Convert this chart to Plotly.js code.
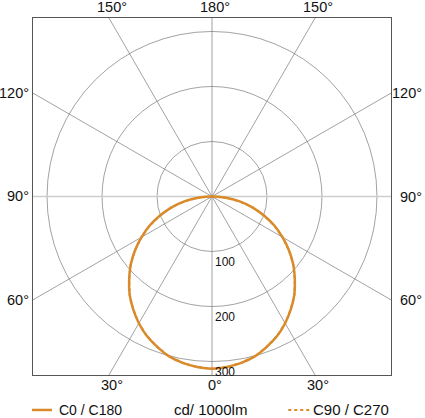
<!DOCTYPE html>
<html>
<head>
<meta charset="utf-8">
<script src="https://cdn.plot.ly/plotly-3.0.1.min.js"></script>
<style>
  html, body { margin: 0; padding: 0; background: #fff; }
  #plot { width: 425px; height: 418px; }
</style>
</head>
<body>
<div id="plot"></div>
<script>
// Light distribution, candela per 1000 lumen
var gammaDeg = [0, 5, 10, 15, 20, 25, 30, 35, 40, 45, 50, 55, 60, 65, 70, 75, 80, 85, 90];
var c0c180 = [313, 311, 307, 301, 291, 280, 266, 250, 233, 213, 193, 171, 148, 125, 100, 76, 51, 25, 0];
var c90c270 = [313, 311, 307, 301, 291, 280, 266, 250, 233, 213, 193, 171, 148, 125, 100, 76, 51, 25, 0];

// Grid
var ringValues = [100, 200, 300];
var spokeAngles = [0, 30, 60, 90, 120, 150, 180, 210, 240, 270, 300, 330];

var orange = '#d98b2b';
var gridCol = '#7a7a7a';
var font = 'Liberation Sans, Arial, Helvetica, sans-serif';

// ranges of the square frame (cd)
var hx = 325.5, hy = 324.5;

function rad(d) { return d * Math.PI / 180; }

// polar (angle from nadir) -> x/y, left half mirrored
function curve(vals) {
  var xs = [], ys = [];
  for (var i = gammaDeg.length - 1; i > 0; i--) {
    xs.push(-vals[i] * Math.sin(rad(gammaDeg[i])));
    ys.push(-vals[i] * Math.cos(rad(gammaDeg[i])));
  }
  for (var j = 0; j < gammaDeg.length; j++) {
    xs.push(vals[j] * Math.sin(rad(gammaDeg[j])));
    ys.push(-vals[j] * Math.cos(rad(gammaDeg[j])));
  }
  return {x: xs, y: ys};
}

var cB = curve(c90c270);
var cA = curve(c0c180);

var trace2 = {
  x: cB.x, y: cB.y,
  mode: 'lines', name: 'C90 / C270',
  line: {color: orange, width: 2, dash: 'dot'},
  hoverinfo: 'skip'
};
var trace1 = {
  x: cA.x, y: cA.y,
  mode: 'lines', name: 'C0 / C180',
  line: {color: orange, width: 2.5, shape: 'spline'},
  hoverinfo: 'skip'
};

var shapes = [];
var annotations = [];

ringValues.forEach(function (r) {
  shapes.push({type: 'circle', xref: 'x', yref: 'y', x0: -r, x1: r, y0: -r, y1: r,
    line: {color: gridCol, width: 0.7}, layer: 'below'});
  annotations.push({x: 0, y: -r, xref: 'x', yref: 'y', text: String(r), showarrow: false,
    xanchor: 'left', yanchor: 'top', xshift: 1, yshift: -1,
    font: {family: font, size: 12, color: '#111'}});
});

spokeAngles.forEach(function (a) {
  var s = Math.sin(rad(a)), c = -Math.cos(rad(a));
  var horiz = (a === 90 || a === 270);
  shapes.push({type: 'line', xref: 'x', yref: 'y', x0: 0, y0: 0, x1: 1000 * s, y1: 1000 * c,
    line: {color: horiz ? '#cdcdcd' : gridCol, width: horiz ? 1.6 : 0.7}, layer: 'below'});

  // where the spoke meets the frame
  var t = Math.min(Math.abs(s) > 1e-9 ? hx / Math.abs(s) : 1e9,
                   Math.abs(c) > 1e-9 ? hy / Math.abs(c) : 1e9);
  var px = (t * s + hx) / (2 * hx), py = (t * c + hy) / (2 * hy);
  var lab = (a <= 180 ? a : 360 - a) + '°';
  var ann = {xref: 'paper', yref: 'paper', text: lab, showarrow: false,
    font: {family: font, size: 14.5, color: '#111'}};
  if (Math.abs(py - 1) < 1e-6) {
    ann.x = px; ann.y = 1; ann.xanchor = 'center'; ann.yanchor = 'bottom'; ann.xshift = 3; ann.yshift = 1;
  } else if (Math.abs(py) < 1e-6) {
    ann.x = px; ann.y = 0; ann.xanchor = 'center'; ann.yanchor = 'top'; ann.xshift = 3;
  } else if (px < 0.5) {
    ann.x = 0; ann.y = py; ann.xanchor = 'right'; ann.yanchor = 'middle'; ann.xshift = -2;
  } else {
    ann.x = 1.092; ann.y = py; ann.xanchor = 'right'; ann.yanchor = 'middle';
  }
  annotations.push(ann);
});

// legend row
shapes.push({type: 'line', xref: 'paper', yref: 'paper', x0: -0.003, x1: 0.053, y0: -0.098, y1: -0.098,
  line: {color: orange, width: 2.5}});
shapes.push({type: 'line', xref: 'paper', yref: 'paper', x0: 0.713, x1: 0.772, y0: -0.098, y1: -0.098,
  line: {color: orange, width: 2, dash: 'dot'}});
annotations.push({xref: 'paper', yref: 'paper', x: 0.067, y: -0.098, text: 'C0 / C180', showarrow: false,
  xanchor: 'left', yanchor: 'middle', font: {family: font, size: 14, color: '#111'}});
annotations.push({xref: 'paper', yref: 'paper', x: 0.497, y: -0.098, text: 'cd/ 1000lm', showarrow: false,
  xanchor: 'center', yanchor: 'middle', font: {family: font, size: 15, color: '#111'}});
annotations.push({xref: 'paper', yref: 'paper', x: 1.0, y: -0.098, text: 'C90 / C270', showarrow: false,
  xanchor: 'right', yanchor: 'middle', font: {family: font, size: 15, color: '#111'}});

var layout = {
  width: 425, height: 418,
  margin: {l: 33, r: 34, t: 18, b: 43},
  paper_bgcolor: '#fff', plot_bgcolor: '#fff',
  showlegend: false,
  xaxis: {range: [-hx, hx], showgrid: false, zeroline: false, showticklabels: false,
    ticks: '', showline: true, mirror: true, linecolor: '#555', linewidth: 1, fixedrange: true},
  yaxis: {range: [-hy, hy], showgrid: false, zeroline: false, showticklabels: false,
    ticks: '', showline: true, mirror: true, linecolor: '#555', linewidth: 1, fixedrange: true},
  shapes: shapes,
  annotations: annotations
};

Plotly.newPlot('plot', [trace2, trace1], layout, {displayModeBar: false, staticPlot: true});
</script>
</body>
</html>
